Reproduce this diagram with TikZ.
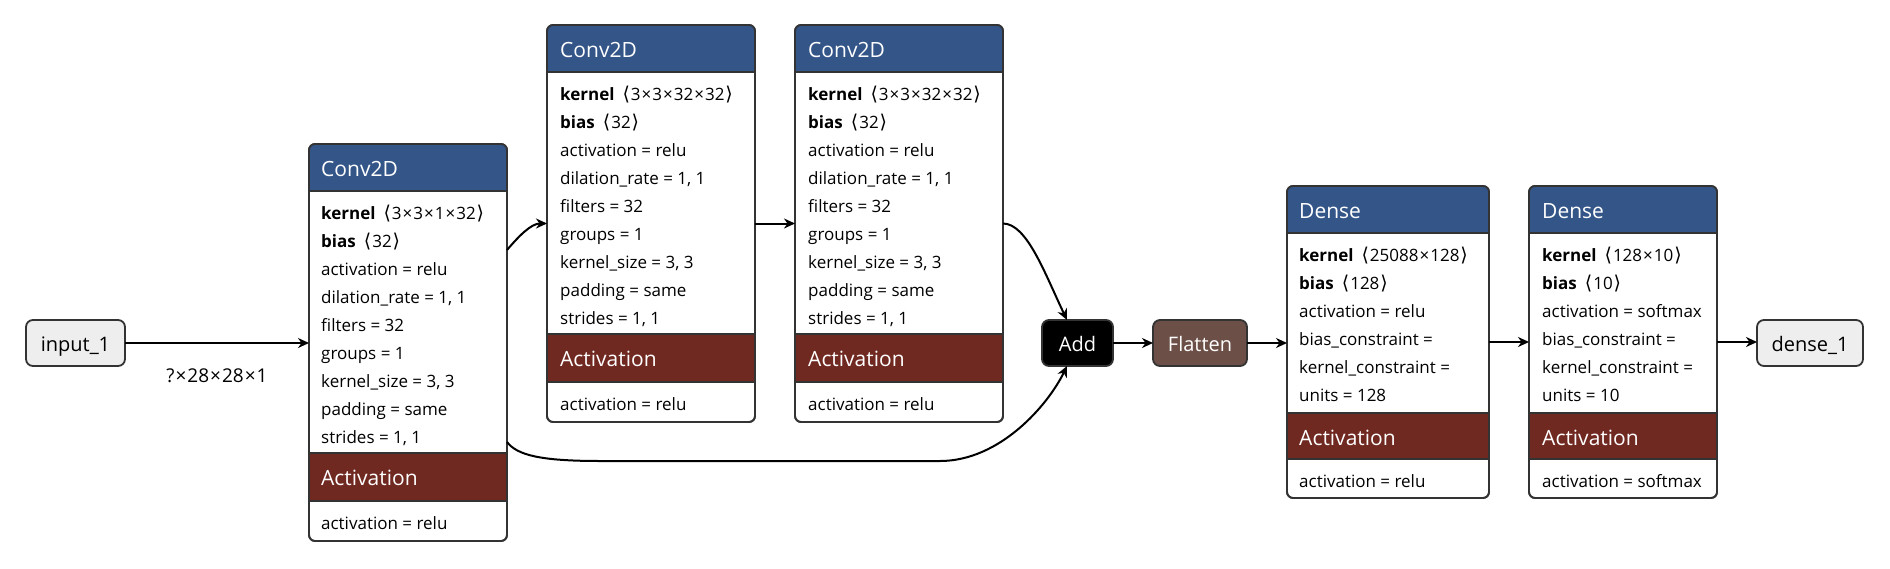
\documentclass[tikz,border=0pt]{standalone}
\usepackage{fontspec}
\setmainfont{Open Sans}
\newfontfamily\brfont{DejaVu Sans}
\usetikzlibrary{arrows.meta,calc}
\definecolor{layerblue}{RGB}{51,85,136}
\definecolor{actred}{RGB}{112,41,33}
\definecolor{shapebrown}{RGB}{108,79,71}
\definecolor{bordergray}{RGB}{51,51,51}
\definecolor{iofill}{RGB}{238,238,238}
\tikzset{
 frame/.style={draw=bordergray, fill=white, line width=1.8pt, rounded corners=6pt, inner sep=0pt, outer sep=0pt, anchor=north west},
 attr/.style={anchor=base west, inner sep=0pt, font=\fontsize{17}{20}\selectfont},
 hdrtext/.style={anchor=base west, inner sep=0pt, text=white, font=\fontsize{21}{24}\selectfont},
 pill/.style={draw=bordergray, line width=1.8pt, rounded corners=7pt, inner sep=0pt, outer sep=0pt, minimum height=46pt, text height=16pt, text depth=0pt, font=\fontsize{20}{24}\selectfont},
 edgelabel/.style={inner sep=0pt, font=\fontsize{19}{22}\selectfont},
 edge/.style={draw=black, line width=2pt, -{Stealth[length=11pt,width=10pt,inset=3.5pt]}},
 sep/.style={draw=bordergray, line width=1.8pt},
}
\newcommand\shp[1]{\hspace{8pt}{\brfont\fontsize{19}{20}\selectfont ⟨}\hspace{1pt}#1\hspace{1pt}{\brfont\fontsize{19}{20}\selectfont ⟩}}
\newcommand\tms{\hspace{1pt}×\hspace{1pt}}
% #1 name, #2 x, #3 y, #4 w, #5 h, #6 header h, #7 act top, #8 act bottom
\newcommand\LayerBox[8]{%
  \node[frame, minimum width=#4pt, minimum height=#5pt] (#1) at (#2,#3) {};
  \begin{scope}
    \clip[rounded corners=6pt] (#1.north west) rectangle (#1.south east);
    \fill[layerblue] (#1.north west) rectangle ([yshift=-#6pt]#1.north east);
    \fill[actred] ([yshift=-#7pt]#1.north west) rectangle ([yshift=-#8pt]#1.north east);
  \end{scope}
  \draw[sep] ([yshift=-#6pt]#1.north west) -- ([yshift=-#6pt]#1.north east);
  \draw[sep] ([yshift=-#7pt]#1.north west) -- ([yshift=-#7pt]#1.north east);
  \draw[sep] ([yshift=-#8pt]#1.north west) -- ([yshift=-#8pt]#1.north east);
  \draw[sep, rounded corners=6pt] (#1.north west) rectangle (#1.south east);
}
\begin{document}
\begin{tikzpicture}[x=1pt,y=-1pt]
\fill[white] (0,0) rectangle (1890,568);
\useasboundingbox (0,0) rectangle (1890,568);

% ---------- Conv2D 1 ----------
\LayerBox{c1}{309}{144}{198}{397}{47}{309}{357}
\node[hdrtext] (c1h) at (321,176) {Conv2D};
\foreach \t [count=\i from 0] in {{\textbf{kernel}\shp{3\tms3\tms1\tms32}},{\textbf{bias}\shp{32}},activation = relu,{dilation\_rate = 1, 1},filters = 32,groups = 1,{kernel\_size = 3, 3},padding = same,{strides = 1, 1}}
  \node[attr] (c1l\i) at (321,{219+28*\i}) {\t};
\node[hdrtext] (c1a) at (321,485) {Activation};
\node[attr] (c1ap) at (321,529) {activation = relu};

% ---------- Conv2D 2 ----------
\LayerBox{c2}{547}{25}{208}{397}{47}{309}{357}
\node[hdrtext] (c2h) at (560,57) {Conv2D};
\foreach \t [count=\i from 0] in {{\textbf{kernel}\shp{3\tms3\tms32\tms32}},{\textbf{bias}\shp{32}},activation = relu,{dilation\_rate = 1, 1},filters = 32,groups = 1,{kernel\_size = 3, 3},padding = same,{strides = 1, 1}}
  \node[attr] (c2l\i) at (560,{100+28*\i}) {\t};
\node[hdrtext] (c2a) at (560,366) {Activation};
\node[attr] (c2ap) at (560,410) {activation = relu};

% ---------- Conv2D 3 ----------
\LayerBox{c3}{795}{25}{208}{397}{47}{309}{357}
\node[hdrtext] (c3h) at (808,57) {Conv2D};
\foreach \t [count=\i from 0] in {{\textbf{kernel}\shp{3\tms3\tms32\tms32}},{\textbf{bias}\shp{32}},activation = relu,{dilation\_rate = 1, 1},filters = 32,groups = 1,{kernel\_size = 3, 3},padding = same,{strides = 1, 1}}
  \node[attr] (c3l\i) at (808,{100+28*\i}) {\t};
\node[hdrtext] (c3a) at (808,366) {Activation};
\node[attr] (c3ap) at (808,410) {activation = relu};

% ---------- Dense 1 ----------
\LayerBox{d1}{1287}{186}{202}{312}{47}{227}{273}
\node[hdrtext] (d1h) at (1299,218) {Dense};
\foreach \t [count=\i from 0] in {{\textbf{kernel}\shp{25088\tms128}},{\textbf{bias}\shp{128}},activation = relu,bias\_constraint =,kernel\_constraint =,units = 128}
  \node[attr] (d1l\i) at (1299,{261+28*\i}) {\t};
\node[hdrtext] (d1a) at (1299,445) {Activation};
\node[attr] (d1ap) at (1299,487) {activation = relu};

% ---------- Dense 2 ----------
\LayerBox{d2}{1529}{186}{188}{312}{47}{227}{273}
\node[hdrtext] (d2h) at (1542,218) {Dense};
\foreach \t [count=\i from 0] in {{\textbf{kernel}\shp{128\tms10}},{\textbf{bias}\shp{10}},activation = softmax,bias\_constraint =,kernel\_constraint =,units = 10}
  \node[attr] (d2l\i) at (1542,{261+28*\i}) {\t};
\node[hdrtext] (d2a) at (1542,445) {Activation};
\node[attr] (d2ap) at (1542,487) {activation = softmax};

% ---------- small nodes ----------
\node[pill, fill=iofill, minimum width=99pt] (in) at (75.5,343) {input\_1};
\node[pill, fill=black, text=white, minimum width=71pt] (add) at (1077.5,343) {Add};
\node[pill, fill=shapebrown, text=white, minimum width=94pt] (flat) at (1200,343) {Flatten};
\node[pill, fill=iofill, minimum width=106pt] (out) at (1810,343) {dense\_1};

% ---------- edges ----------
\coordinate (skipA) at (600,461);
\coordinate (skipB) at (940,461);
\draw[edge] (in.east) -- node[edgelabel, midway, yshift=-33pt] (shapelbl) {?\tms28\tms28\tms1} (in.east -| c1.west);
\draw[edge] ([yshift=-106pt]c1.north east) .. controls +(12,-14) and +(-16,0) .. (c2.west);
\draw[edge] (c2.east) -- (c3.west);
\draw[edge] (c3.east) .. controls +(24,0) and +(-22,-46) .. ([xshift=-10.5pt]add.north);
\draw[edge] ([yshift=-298pt]c1.north east) .. controls +(10,13) and +(-60,0) .. (skipA) -- (skipB) .. controls +(60,0) and +(-19,39) .. ([xshift=-10.5pt]add.south);
\draw[edge] (add.east) -- (flat.west);
\draw[edge] (flat.east) -- (flat.east -| d1.west);
\draw[edge] (d1.east) -- (d1.east -| d2.west);
\draw[edge] (d2.east) -- (d2.east -| out.west);
\end{tikzpicture}
\end{document}
